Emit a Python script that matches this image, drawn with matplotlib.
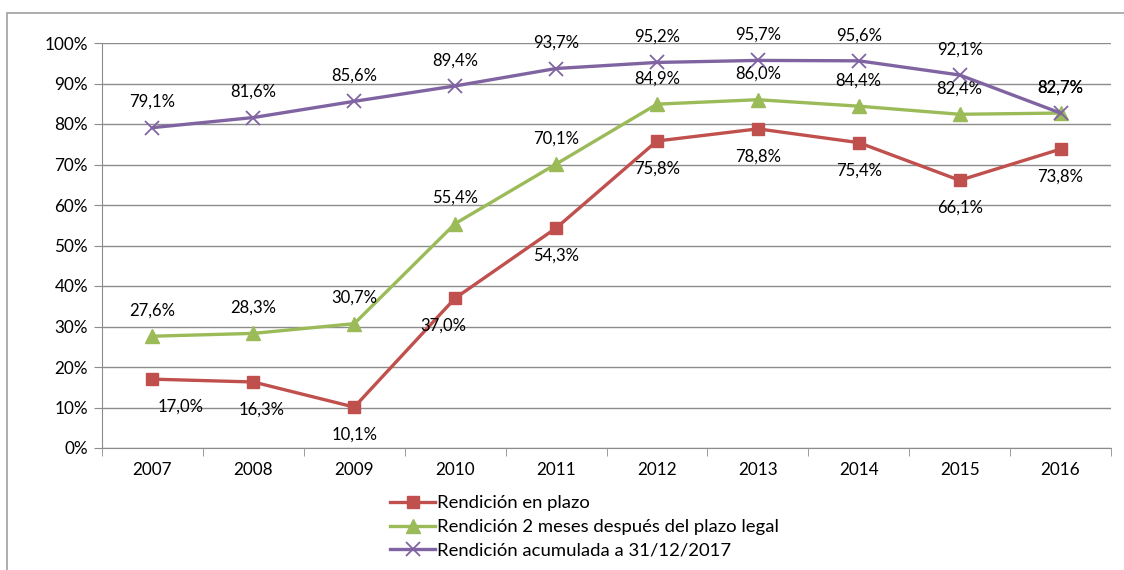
import numpy as np
import matplotlib.pyplot as plt
from matplotlib.patches import Rectangle
from matplotlib.ticker import FixedLocator, PercentFormatter

plt.rcParams['font.family'] = ['Lato', 'DejaVu Sans']

years = ['2007', '2008', '2009', '2010', '2011', '2012', '2013', '2014', '2015', '2016']
en_plazo = [17.0, 16.3, 10.1, 37.0, 54.3, 75.8, 78.8, 75.4, 66.1, 73.8]
dos_meses = [27.6, 28.3, 30.7, 55.4, 70.1, 84.9, 86.0, 84.4, 82.4, 82.7]
acumulada = [79.1, 81.6, 85.6, 89.4, 93.7, 95.2, 95.7, 95.6, 92.1, 82.7]

series_names = ['Rendición en plazo',
                'Rendición 2 meses después del plazo legal',
                'Rendición acumulada a 31/12/2017']

red = '#C0504D'
green = '#9BBB59'
purple = '#8064A2'
grid_col = '#8C8C8C'

fig = plt.figure(figsize=(11.24, 5.70), dpi=100)
fig.patches.append(Rectangle((7 / 1124, -0.1), 1.2, 1 - 13 / 570 + 0.1,
                             transform=fig.transFigure, fill=False,
                             edgecolor='#A0A0A0', linewidth=1.2))
ax = fig.add_axes([102 / 1124, 1 - 448 / 570, (1111 - 102) / 1124, (448 - 43) / 570])

x = np.arange(len(years))
ax.plot(x, en_plazo, color=red, lw=2.4, marker='s', ms=9, label=series_names[0], zorder=3)
ax.plot(x, dos_meses, color=green, lw=2.4, marker='^', ms=10, label=series_names[1], zorder=3)
ax.plot(x, acumulada, color=purple, lw=2.4, marker='x', ms=10, mew=1.3, label=series_names[2], zorder=4)

def fmt(v):
    return f'{v:.1f}%'.replace('.', ',')

lbl = dict(fontsize=12, ha='center', va='center', color='black')
red_dx = [28, 8, 0, -12, 0, 0, 0, 0, 0, 0]
for i, v in enumerate(en_plazo):
    ax.annotate(fmt(v), (x[i], v), xytext=(red_dx[i] * 0.72, -20), textcoords='offset points', **lbl)
# green and purple labels share the offset so the two 82,7% at 2016 stack exactly
for i, v in enumerate(dos_meses):
    ax.annotate(fmt(v), (x[i], v), xytext=(0, 18.5), textcoords='offset points', **lbl)
for i, v in enumerate(acumulada):
    ax.annotate(fmt(v), (x[i], v), xytext=(0, 18.5), textcoords='offset points', **lbl)

ax.set_xlim(-0.5, len(years) - 0.5)
ax.set_ylim(0, 100)
ax.yaxis.set_major_locator(FixedLocator(np.arange(0, 101, 10)))
ax.yaxis.set_major_formatter(PercentFormatter(decimals=0))
ax.set_xticks(x)
ax.set_xticklabels(years)
ax.xaxis.set_minor_locator(FixedLocator(np.arange(-0.5, len(years), 1)))
ax.tick_params(axis='x', which='major', length=0, pad=10, labelsize=12.3)
ax.tick_params(axis='x', which='minor', length=6, color=grid_col, direction='out')
ax.tick_params(axis='y', length=6, color=grid_col, labelsize=12.3, pad=4)
ax.grid(axis='y', color=grid_col, lw=1)
ax.set_axisbelow(True)
for s in ['top', 'right']:
    ax.spines[s].set_visible(False)
for s in ['left', 'bottom']:
    ax.spines[s].set_color(grid_col)

fig.legend(loc='upper left', bbox_to_anchor=(383 / 1124, 1 - 488 / 570), frameon=False,
           fontsize=13.3, handlelength=2.4, handletextpad=0.1, labelspacing=0.42,
           borderaxespad=0)

fig.savefig('out.png', dpi=100)
